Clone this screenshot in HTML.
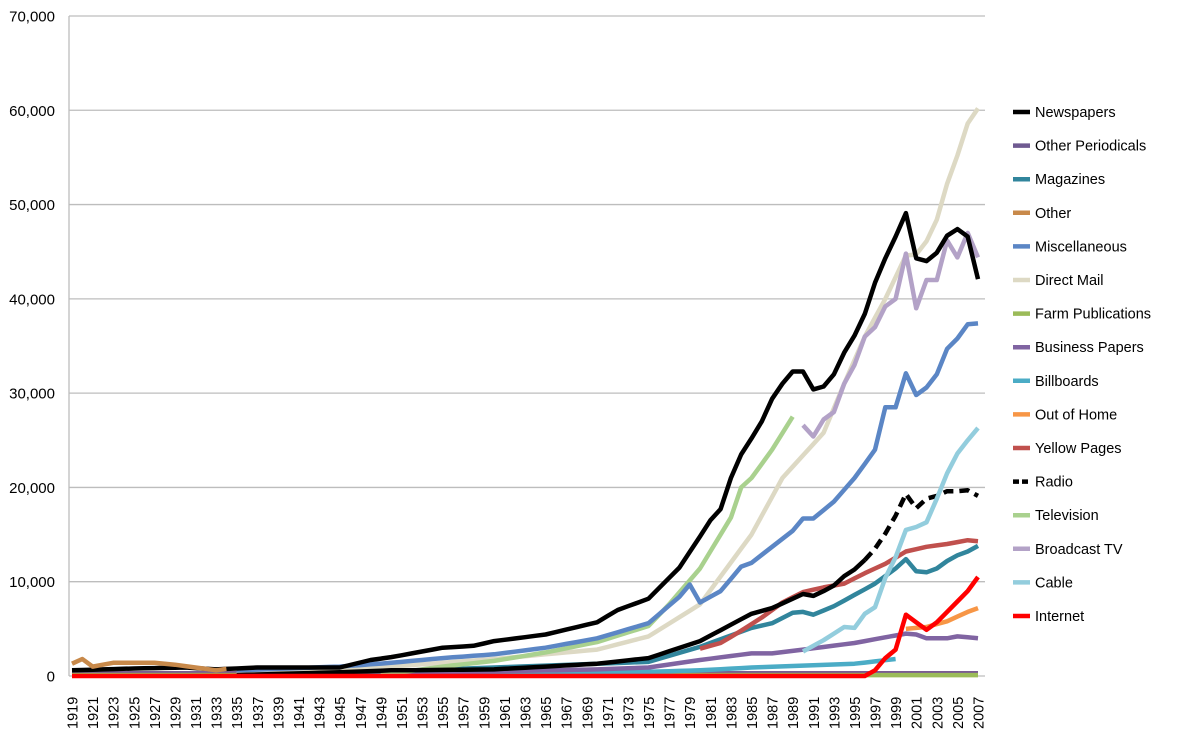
<!DOCTYPE html>
<html><head><meta charset="utf-8"><style>
body{margin:0;background:#fff;}
svg{display:block;font-family:"Liberation Sans",Arial,sans-serif;}
</style></head><body>
<svg id="c" width="1195" height="731" xmlns="http://www.w3.org/2000/svg"></svg>
<script>
const svg=document.getElementById('c');
const X0=72,X1=978,Y0=676,S=660/70000;
const xf=y=>X0+(y-1919)*(X1-X0)/88, yf=v=>Y0-v*S;
let h='';
for(let i=0;i<=7;i++){const y=Y0-i*94.29;
 h+=`<line x1="69" x2="985" y1="${y}" y2="${y}" stroke="#bdbdbd" stroke-width="1.3"/>`;
 h+=`<text x="55" y="${y+5.5}" text-anchor="end" font-size="15">${i==0?'0':(i*10)+',000'}</text>`;}
h+=`<line x1="69" x2="69" y1="16" y2="676" stroke="#bdbdbd" stroke-width="1.3"/>`;
for(let yr=1919;yr<=2007;yr+=2){const x=xf(yr)+5.5;
 h+=`<text transform="translate(${x},729) rotate(-90)" font-size="14.5">${yr}</text>`;}
function series(pts){pts=pts.slice().sort((a,b)=>a[0]-b[0]);const out=[];
 for(let yr=pts[0][0];yr<=pts[pts.length-1][0];yr++){let i=0;while(i<pts.length-1&&pts[i+1][0]<yr)i++;
  const a=pts[i],b=pts[Math.min(i+1,pts.length-1)];let v=a[1];if(b[0]>a[0])v=a[1]+(b[1]-a[1])*(yr-a[0])/(b[0]-a[0]);
  out.push(xf(yr).toFixed(1)+','+yf(v).toFixed(1));}return out.join(' ');}
function line(pts,col,dash){h+=`<polyline points="${series(pts)}" fill="none" stroke="${col}" stroke-width="4.5" stroke-linejoin="round" ${dash?'stroke-dasharray="10,6"':''}/>`;}
const D={
other:[[1919,1300],[1920,1800],[1921,1000],[1923,1400],[1927,1400],[1929,1200],[1931,900],[1933,600],[1934,750]],
op:[[1919,300],[1980,300],[1990,300],[2007,300]],
farm:[[1919,100],[2007,100]],
bb:[[1935,100],[1960,200],[1970,300],[1980,600],[1985,900],[1990,1100],[1995,1300],[1999,1800]],
bp:[[1935,200],[1950,300],[1960,500],[1970,700],[1975,900],[1980,1700],[1985,2400],[1987,2400],[1990,2800],[1995,3500],[1998,4100],[2000,4500],[2001,4400],[2002,4000],[2004,4000],[2005,4200],[2007,4000]],
mag:[[1935,300],[1950,500],[1960,900],[1970,1300],[1975,1500],[1980,3100],[1985,5100],[1987,5600],[1989,6700],[1990,6800],[1991,6500],[1993,7400],[1995,8600],[1997,9800],[1999,11400],[2000,12400],[2001,11100],[2002,11000],[2003,11400],[2004,12200],[2005,12800],[2006,13200],[2007,13800]],
dm:[[1935,200],[1950,1000],[1960,1800],[1970,2800],[1975,4200],[1980,7600],[1985,15000],[1988,21000],[1990,23400],[1992,25800],[1994,31000],[1996,36000],[1998,40000],[2000,44600],[2001,44700],[2002,46100],[2003,48400],[2004,52200],[2005,55200],[2006,58600],[2007,60200]],
tv:[[1949,100],[1955,1000],[1960,1600],[1965,2500],[1970,3600],[1975,5300],[1977,7600],[1980,11400],[1983,16800],[1984,20000],[1985,21000],[1987,24000],[1989,27500]],
misc:[[1935,600],[1945,1000],[1950,1400],[1955,1900],[1960,2300],[1965,3000],[1970,4000],[1975,5600],[1978,8400],[1979,9700],[1980,7800],[1982,9000],[1984,11600],[1985,12000],[1987,13700],[1989,15400],[1990,16700],[1991,16700],[1993,18500],[1995,21000],[1997,24000],[1998,28500],[1999,28500],[2000,32100],[2001,29800],[2002,30600],[2003,32000],[2004,34700],[2005,35800],[2006,37300],[2007,37400]],
yp:[[1980,2900],[1982,3500],[1984,4800],[1986,6200],[1988,7800],[1990,8900],[1992,9400],[1994,9800],[1996,10900],[1998,11900],[2000,13200],[2002,13700],[2004,14000],[2006,14400],[2007,14300]],
oh:[[2000,5000],[2002,5200],[2004,5800],[2006,6800],[2007,7200]],
radioS:[[1935,100],[1945,400],[1950,600],[1960,700],[1970,1300],[1975,1900],[1980,3700],[1985,6600],[1987,7200],[1990,8700],[1991,8500],[1992,9000],[1993,9600],[1994,10600],[1995,11300],[1996,12300]],
radioD:[[1996,12300],[1997,13500],[1998,15100],[1999,17000],[2000,19300],[2001,17800],[2002,18800],[2003,19100],[2004,19600],[2005,19600],[2006,19700],[2007,19100]],
btv:[[1990,26600],[1991,25400],[1992,27200],[1993,28000],[1994,31000],[1995,33000],[1996,36000],[1997,37000],[1998,39200],[1999,40000],[2000,44800],[2001,39000],[2002,42000],[2003,42000],[2004,46200],[2005,44400],[2006,47000],[2007,44400]],
cab:[[1990,2600],[1992,3800],[1994,5200],[1995,5100],[1996,6600],[1997,7300],[1998,10400],[1999,12600],[2000,15500],[2001,15800],[2002,16300],[2003,18800],[2004,21500],[2005,23600],[2006,25000],[2007,26300]],
np:[[1919,600],[1925,800],[1930,900],[1933,700],[1937,900],[1945,900],[1948,1700],[1950,2000],[1955,3000],[1958,3200],[1960,3700],[1965,4400],[1970,5700],[1972,7000],[1975,8200],[1978,11500],[1980,14800],[1981,16500],[1982,17700],[1983,21000],[1984,23500],[1985,25200],[1986,27000],[1987,29400],[1988,31000],[1989,32300],[1990,32300],[1991,30400],[1992,30700],[1993,32000],[1994,34300],[1995,36100],[1996,38400],[1997,41700],[1998,44300],[1999,46600],[2000,49100],[2001,44300],[2002,44000],[2003,44900],[2004,46700],[2005,47400],[2006,46600],[2007,42100]],
net:[[1919,0],[1996,0],[1997,600],[1998,1900],[1999,2800],[2000,6500],[2001,5700],[2002,4900],[2003,5700],[2004,6800],[2005,7900],[2006,9000],[2007,10500]]
};
line(D.op,'#7a5c91');line(D.farm,'#9bbb59');line(D.bb,'#4bacc6');line(D.bp,'#8064a2');line(D.mag,'#31859c');
line(D.dm,'#ddd9c4');line(D.tv,'#a9d18e');line(D.misc,'#5b86c5');line(D.yp,'#c0504d');line(D.oh,'#f79646');
line(D.radioS,'#000');line(D.radioD,'#000',1);line(D.btv,'#b3a2c7');line(D.cab,'#93cddd');line(D.np,'#000');line(D.net,'#ff0000');line(D.other,'#c8894a');
const L=[['Newspapers','#000'],['Other Periodicals','#6f5a91'],['Magazines','#31859c'],['Other','#c8894a'],['Miscellaneous','#5b86c5'],['Direct Mail','#ddd9c4'],['Farm Publications','#9bbb59'],['Business Papers','#8064a2'],['Billboards','#4bacc6'],['Out of Home','#f79646'],['Yellow Pages','#c0504d'],['Radio','#000',1],['Television','#a9d18e'],['Broadcast TV','#b3a2c7'],['Cable','#93cddd'],['Internet','#ff0000']];
L.forEach((l,i)=>{const y=112+i*33.6;
 h+=`<line x1="1013" x2="1030" y1="${y}" y2="${y}" stroke="${l[1]}" stroke-width="4.5" ${l[2]?'stroke-dasharray="6,3"':''}/>`;
 h+=`<text x="1035" y="${y+5}" font-size="14.5">${l[0]}</text>`;});
svg.innerHTML=h;
</script>
</body></html>
